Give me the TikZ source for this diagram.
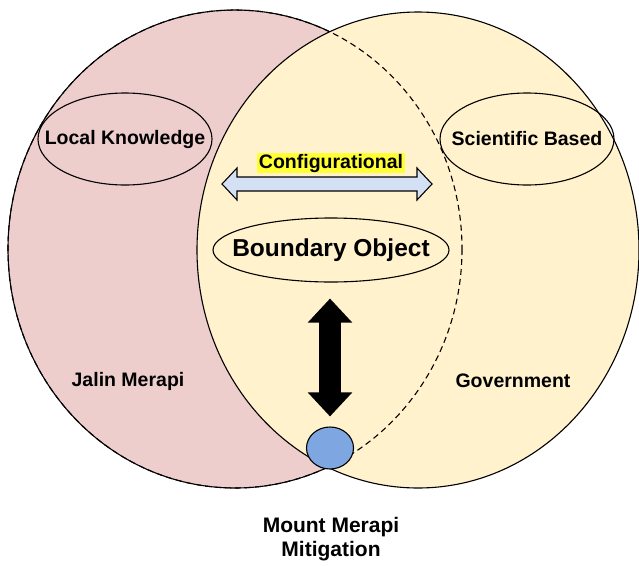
\documentclass[tikz,border=0pt]{standalone}
\usepackage{fontspec}
\setmainfont{Liberation Sans}
\usetikzlibrary{shapes.geometric,arrows.meta}
\definecolor{jalinpink}{RGB}{238,205,205}
\definecolor{govyellow}{RGB}{255,242,204}
\definecolor{arrowblue}{RGB}{212,225,244}
\definecolor{mountblue}{RGB}{126,166,224}
\definecolor{markyellow}{RGB}{255,255,51}
\tikzset{
      ovalsr/.style={
          ellipse,
          draw=black,
          line width=1.1pt,
          inner sep=0pt
      },
      labelsr/.style={
          font=\bfseries\fontsize{19.5}{23}\selectfont
      }
  }

\begin{document}
\begin{tikzpicture}[x=1pt,y=-1pt]
    \useasboundingbox (0,0) rectangle (639,565);

    \draw[fill=jalinpink, line width=1.1pt] (235,249) ellipse [x radius=227, y radius=239];
    \draw[fill=govyellow, line width=1.1pt] (418,250) ellipse [x radius=221, y radius=238];
    \draw[line width=1.1pt, dash pattern=on 6pt off 4pt] (235,249) ellipse [x radius=227, y radius=239];

    \node [ovalsr, minimum width=174pt, minimum height=92pt,
           label={[labelsr]center:Local Knowledge}] (lk) at (125,139) {};
    \node [ovalsr, minimum width=174pt, minimum height=92pt,
           label={[labelsr]center:Scientific Based}] (sb) at (527,139) {};
    \node [ovalsr, fill=govyellow, minimum width=236pt, minimum height=64pt,
           label={[font=\bfseries\fontsize{24.5}{28}\selectfont]center:Boundary Object}] (bo) at (331,250) {};

    \node [labelsr, fill=markyellow, inner xsep=2pt, inner ysep=0.5pt] (cfg) at (331,163) {Configurational};
    \coordinate (cfgarrow) at (327,184);
    \draw[fill=arrowblue, line width=1.1pt, line join=miter]
        (cfgarrow) ++(-105,0) -- ++(15,-16) -- ++(0,9) -- ++(180,0) -- ++(0,-9)
        -- ++(15,16) -- ++(-15,16) -- ++(0,-9) -- ++(-180,0) -- ++(0,9) -- cycle;

    \node [ovalsr, fill=mountblue, minimum width=47pt, minimum height=42pt] (mount) at (330,448) {};
    \draw[line width=22pt, {Triangle[length=24pt,width=43pt]}-{Triangle[length=24pt,width=43pt]},
          shorten <=16pt, shorten >=10pt] (bo.south -| mount.north) -- (mount.north);

    \node [labelsr] (jalin) at (128,381) {Jalin Merapi};
    \node [labelsr] (gov) at (513,381) {Government};
    \node [labelsr, align=center, font=\bfseries\fontsize{21}{24}\selectfont] (mm) at (331,539) {Mount Merapi\\Mitigation};
\end{tikzpicture}
\end{document}
